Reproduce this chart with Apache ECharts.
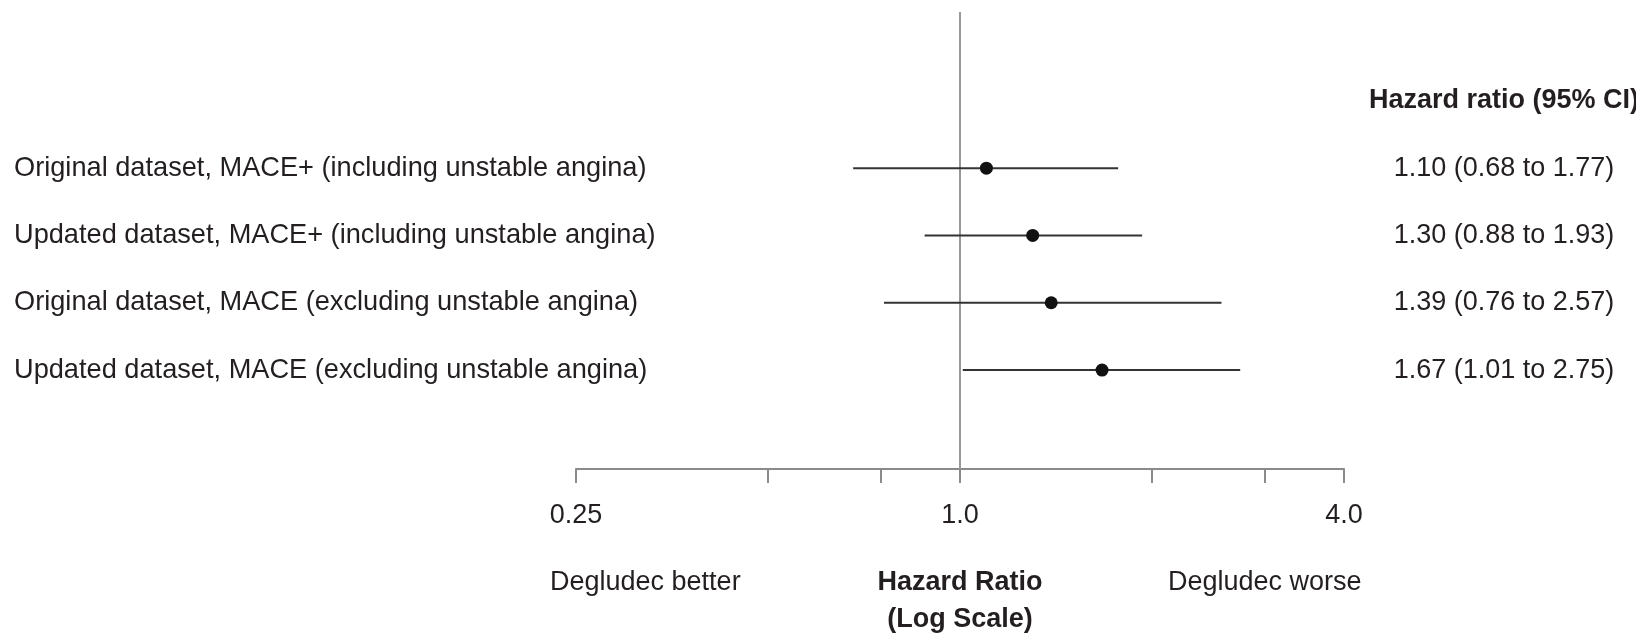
<!DOCTYPE html>
<html>
<head>
<meta charset="utf-8">
<script src="https://cdn.jsdelivr.net/npm/echarts@6/dist/echarts.min.js"></script>
<style>
html,body{margin:0;padding:0;background:#fff;}
#chart{width:1636px;height:636px;}
</style>
</head>
<body>
<div id="chart"></div>
<script>
// ---- data ----
const rowLabels = [
  'Original dataset, MACE+ (including unstable angina)',
  'Updated dataset, MACE+ (including unstable angina)',
  'Original dataset, MACE (excluding unstable angina)',
  'Updated dataset, MACE (excluding unstable angina)'
];
const hazardRatio = [1.10, 1.30, 1.39, 1.67];
const ciLower = [0.68, 0.88, 0.76, 1.01];
const ciUpper = [1.77, 1.93, 2.57, 2.75];
const tickValues = [0.25, 0.5, 0.75, 1, 2, 3, 4];
const labelValues = [0.25, 1, 4];
const tickLabels = ['0.25', '1.0', '4.0'];
const columnHeader = 'Hazard ratio (95% CI)';

const FONT = '"Liberation Sans", Arial, sans-serif';
const TXT = '#231f20';

function rowIndexOf(v) {
  const r = Math.round(v);
  return Math.abs(v - r) < 1e-6 ? r : null;
}
const ciText = hazardRatio.map((h, i) =>
  `${h.toFixed(2)} (${ciLower[i].toFixed(2)} to ${ciUpper[i].toFixed(2)})`);

const chart = echarts.init(document.getElementById('chart'), null, {renderer: 'canvas'});
chart.setOption({
  animation: false,
  backgroundColor: '#fff',
  textStyle: {fontFamily: FONT},
  grid: {left: 576, right: 292, top: 12, bottom: 167, containLabel: false, outerBoundsMode: 'none'},
  xAxis: {
    type: 'log',
    logBase: 2,
    min: 0.25,
    max: 4,
    position: 'bottom',
    splitLine: {show: false},
    axisLine: {onZero: false, lineStyle: {color: '#8a8a8a', width: 2}},
    axisTick: {show: true, customValues: tickValues, length: 14, lineStyle: {color: '#8a8a8a', width: 2}},
    axisLabel: {
      customValues: labelValues,
      margin: 33,
      fontSize: 27,
      color: TXT,
      fontFamily: FONT,
      formatter: v => {
        const k = labelValues.findIndex(x => Math.abs(x - v) < 1e-6);
        return k >= 0 ? tickLabels[k] : '';
      }
    },
    name: 'Hazard Ratio\n(Log Scale)',
    nameLocation: 'middle',
    nameGap: 95,
    nameTextStyle: {fontSize: 27, fontWeight: 'bold', color: TXT, lineHeight: 37, fontFamily: FONT}
  },
  yAxis: [
    {
      type: 'value',
      inverse: true,
      min: -1.32,
      max: 5.47,
      position: 'left',
      splitLine: {show: false},
      axisLine: {show: false, onZero: false},
      axisTick: {show: false},
      axisLabel: {
        align: 'left',
        margin: 562,
        fontSize: 27.2,
        color: TXT,
        fontFamily: FONT,
        formatter: v => {
          const r = rowIndexOf(v);
          return (r !== null && r >= 1 && r <= rowLabels.length) ? rowLabels[r - 1] : '';
        }
      }
    },
    {
      type: 'value',
      inverse: true,
      min: -1.32,
      max: 5.47,
      position: 'right',
      splitLine: {show: false},
      axisLine: {show: false, onZero: false},
      axisTick: {show: false},
      axisLabel: {
        align: 'center',
        margin: 160,
        fontSize: 27,
        color: TXT,
        fontFamily: FONT,
        formatter: v => {
          const r = rowIndexOf(v);
          if (r === 0) return '{h|' + columnHeader + '}';
          return (r !== null && r >= 1 && r <= ciText.length) ? ciText[r - 1] : '';
        },
        rich: {h: {fontSize: 27, fontWeight: 'bold', color: TXT, fontFamily: FONT}}
      }
    }
  ],
  series: [
    {
      type: 'custom',
      silent: true,
      xAxisIndex: 0,
      yAxisIndex: 0,
      encode: {x: [0, 1], y: 2},
      data: hazardRatio.map((h, i) => [ciLower[i], ciUpper[i], i + 1]),
      renderItem: (params, api) => {
        const p1 = api.coord([api.value(0), api.value(2)]);
        const p2 = api.coord([api.value(1), api.value(2)]);
        return {
          type: 'line',
          shape: {x1: p1[0], y1: p1[1], x2: p2[0], y2: p2[1]},
          style: {stroke: '#333', lineWidth: 2}
        };
      },
      z: 2
    },
    {
      type: 'scatter',
      silent: true,
      xAxisIndex: 0,
      yAxisIndex: 0,
      symbol: 'circle',
      symbolSize: 13,
      itemStyle: {color: '#111', opacity: 1},
      data: hazardRatio.map((h, i) => [h, i + 1]),
      z: 3,
      markLine: {
        silent: true,
        symbol: 'none',
        label: {show: false},
        lineStyle: {color: '#999', width: 2, type: 'solid'},
        data: [{xAxis: 1}],
        z: 1
      }
    }
  ],
  graphic: [
    {type: 'text', left: 550, top: 569, style: {text: 'Degludec better', font: '27px "Liberation Sans", Arial, sans-serif', fill: TXT}},
    {type: 'text', left: 1168, top: 569, style: {text: 'Degludec worse', font: '27px "Liberation Sans", Arial, sans-serif', fill: TXT}}
  ]
});
</script>
</body>
</html>
